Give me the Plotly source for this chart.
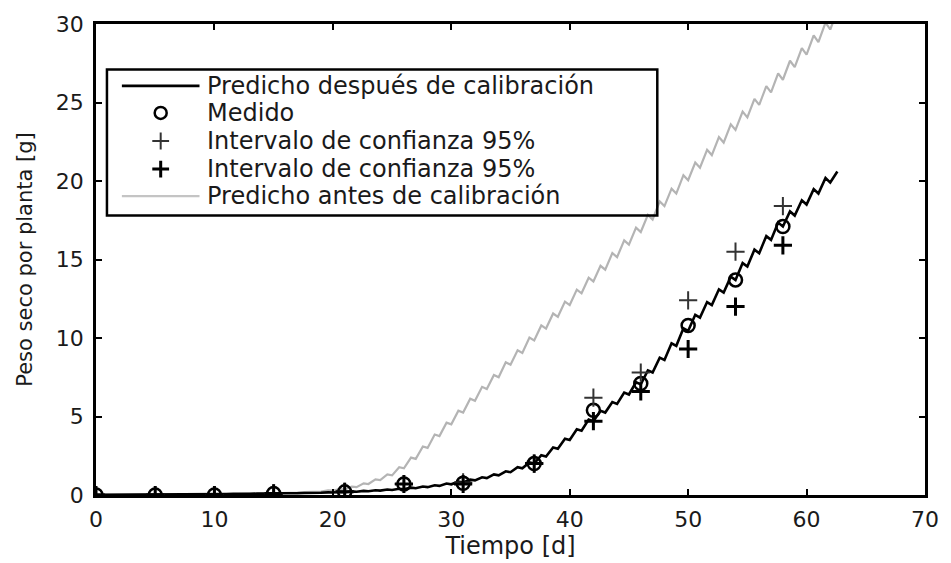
import plotly.graph_objects as go

# --- Data -------------------------------------------------------------------
# Simulated dry weight (g/plant). Each day: value at dawn and value at the end
# of the light period (the curve dips slightly during the night).
days = list(range(63))

after_dawn = [0.02, 0.02, 0.02, 0.02, 0.03, 0.03, 0.03, 0.04, 0.04, 0.05,
              0.05, 0.06, 0.06, 0.07, 0.08, 0.09, 0.10, 0.11, 0.12, 0.14,
              0.16, 0.18, 0.21, 0.24, 0.28, 0.32, 0.37, 0.43, 0.50, 0.58,
              0.68, 0.80, 0.93, 1.08, 1.25, 1.45, 1.70, 2.00, 2.45, 2.95,
              3.50, 4.10, 4.70, 5.25, 5.80, 6.40, 7.05, 7.80, 8.60, 9.50,
              10.45, 11.30, 12.10, 12.90, 13.70, 14.55, 15.40, 16.25, 17.10, 17.80,
              18.50, 19.20, 19.90]
after_dusk = [0.02, 0.02, 0.02, 0.03, 0.03, 0.03, 0.04, 0.04, 0.05, 0.05,
              0.06, 0.07, 0.08, 0.09, 0.10, 0.11, 0.12, 0.13, 0.15, 0.17,
              0.20, 0.23, 0.26, 0.30, 0.35, 0.40, 0.47, 0.54, 0.62, 0.73,
              0.85, 0.98, 1.13, 1.31, 1.51, 1.77, 2.07, 2.53, 3.03, 3.58,
              4.19, 4.80, 5.36, 5.92, 6.52, 7.18, 7.94, 8.75, 9.66, 10.62,
              11.48, 12.29, 13.10, 13.91, 14.77, 15.63, 16.49, 17.35, 18.06, 18.77,
              19.48, 20.19, 20.60]

before_dawn = [0.00, 0.01, 0.01, 0.01, 0.02, 0.02, 0.02, 0.03, 0.03, 0.04,
               0.04, 0.05, 0.06, 0.07, 0.08, 0.10, 0.12, 0.15, 0.18, 0.22,
               0.28, 0.36, 0.50, 0.70, 0.95, 1.25, 1.70, 2.30, 3.00, 3.75,
               4.50, 5.25, 6.00, 6.75, 7.50, 8.30, 9.05, 9.85, 10.60, 11.35,
               12.10, 12.85, 13.60, 14.35, 15.15, 15.95, 16.75, 17.55, 18.40, 19.20,
               20.05, 20.85, 21.65, 22.45, 23.25, 24.05, 24.85, 25.65, 26.45, 27.25,
               28.05, 28.85, 29.65]
before_dusk = [0.01, 0.01, 0.01, 0.02, 0.02, 0.02, 0.03, 0.03, 0.04, 0.04,
               0.05, 0.06, 0.07, 0.08, 0.10, 0.12, 0.15, 0.18, 0.22, 0.29,
               0.38, 0.53, 0.74, 1.00, 1.31, 1.77, 2.38, 3.09, 3.85, 4.61,
               5.37, 6.13, 6.89, 7.65, 8.46, 9.22, 10.03, 10.80, 11.56, 12.32,
               13.08, 13.84, 14.60, 15.41, 16.22, 17.03, 17.84, 18.70, 19.51, 20.37,
               21.18, 21.99, 22.80, 23.61, 24.42, 25.23, 26.04, 26.85, 27.66, 28.47,
               29.28, 30.09, 30.85]

# Measurements and 95% confidence bounds
meas_days = [0, 5, 10, 15, 21, 26, 31, 37, 42, 46, 50, 54, 58]
measured = [0.0, 0.0, 0.0, 0.1, 0.2, 0.7, 0.75, 2.0, 5.4, 7.1, 10.8, 13.7, 17.1]
ci_upper = [0.0, 0.0, 0.0, 0.1, 0.2, 0.7, 0.8, 2.0, 6.2, 7.8, 12.4, 15.5, 18.4]
ci_lower = [0.0, 0.0, 0.0, 0.1, 0.2, 0.7, 0.7, 2.0, 4.7, 6.6, 9.3, 12.0, 15.9]

x_ticks = [0, 10, 20, 30, 40, 50, 60, 70]
y_ticks = [0, 5, 10, 15, 20, 25, 30]

legend_labels = ["Predicho después de calibración", "Medido",
                 "Intervalo de confianza 95%", "Intervalo de confianza 95%",
                 "Predicho antes de calibración"]

LIGHT_FRAC = 0.6  # fraction of the day with growth


def daily_cycle(dawn, dusk):
    xs, ys = [], []
    for d, lo, hi in zip(days, dawn, dusk):
        xs += [d, d + LIGHT_FRAC]
        ys += [lo, hi]
    return xs, ys


FONT = "DejaVu Sans, Arial, sans-serif"
TEXT = "#1a1a1a"
GRAY = "#b4b4b4"

fig = go.Figure()

bx, by = daily_cycle(before_dawn, before_dusk)
fig.add_trace(go.Scatter(x=bx, y=by, mode="lines",
                         line=dict(color=GRAY, width=2.2), showlegend=False))

ax, ay = daily_cycle(after_dawn, after_dusk)
fig.add_trace(go.Scatter(x=ax, y=ay, mode="lines",
                         line=dict(color="black", width=2.6), showlegend=False))

fig.add_trace(go.Scatter(x=meas_days, y=measured, mode="markers",
                         marker=dict(symbol="circle-open", size=13, color="black",
                                     line=dict(width=2.5)),
                         showlegend=False))
fig.add_trace(go.Scatter(x=meas_days, y=ci_upper, mode="markers",
                         marker=dict(symbol="cross-thin-open", size=13, color="#333333",
                                     line=dict(width=2, color="#333333")),
                         showlegend=False))
fig.add_trace(go.Scatter(x=meas_days, y=ci_lower, mode="markers",
                         marker=dict(symbol="cross-thin-open", size=13, color="black",
                                     line=dict(width=3, color="black")),
                         showlegend=False))

# --- Legend, drawn on an overlay axis in pixel units ------------------------
L, R, T, B = 96, 929, 15, 502
leg_left, leg_right, leg_top, leg_bottom = 107, 660, 62, 213
row_y = [79, 107, 136, 165, 193]
sample_x0, sample_x1, sample_xc, text_x = 122, 200, 161, 206

fig.add_trace(go.Scatter(x=[sample_x0, sample_x1], y=[row_y[0]] * 2, mode="lines",
                         line=dict(color="black", width=2.6),
                         xaxis="x2", yaxis="y2", showlegend=False))
fig.add_trace(go.Scatter(x=[sample_xc], y=[row_y[1]], mode="markers",
                         marker=dict(symbol="circle-open", size=12, color="black",
                                     line=dict(width=2.5)),
                         xaxis="x2", yaxis="y2", showlegend=False))
fig.add_trace(go.Scatter(x=[sample_xc], y=[row_y[2]], mode="markers",
                         marker=dict(symbol="cross-thin-open", size=12, color="#333333",
                                     line=dict(width=2, color="#333333")),
                         xaxis="x2", yaxis="y2", showlegend=False))
fig.add_trace(go.Scatter(x=[sample_xc], y=[row_y[3]], mode="markers",
                         marker=dict(symbol="cross-thin-open", size=12, color="black",
                                     line=dict(width=3, color="black")),
                         xaxis="x2", yaxis="y2", showlegend=False))
fig.add_trace(go.Scatter(x=[sample_x0, sample_x1], y=[row_y[4]] * 2, mode="lines",
                         line=dict(color="#c4c4c4", width=2.2),
                         xaxis="x2", yaxis="y2", showlegend=False))

fig.add_shape(type="rect", xref="x2", yref="y2",
              x0=leg_left, x1=leg_right, y0=leg_top, y1=leg_bottom,
              line=dict(color="black", width=2.5), layer="above")

for label, yy in zip(legend_labels, row_y):
    fig.add_annotation(x=text_x, y=yy, xref="x2", yref="y2", text=label,
                       showarrow=False, xanchor="left", yanchor="middle",
                       font=dict(family=FONT, size=24, color=TEXT))

axis_common = dict(showline=True, linecolor="black", linewidth=2.5, mirror="ticks",
                   ticks="inside", ticklen=6, tickwidth=2, tickcolor="black",
                   showgrid=False, zeroline=False,
                   tickfont=dict(family=FONT, size=22, color=TEXT))

fig.update_layout(
    width=951, height=563,
    margin=dict(l=L, r=951 - R, t=T, b=563 - B),
    paper_bgcolor="white", plot_bgcolor="white",
    showlegend=False,
    xaxis=dict(range=[0, 70], tickvals=x_ticks, ticklabelstandoff=3,
               title=dict(text="Tiempo [d]", standoff=2,
                          font=dict(family=FONT, size=24, color=TEXT)),
               **axis_common),
    yaxis=dict(range=[0, 30], tickvals=y_ticks, ticklabelstandoff=5,
               title=dict(text="Peso seco por planta [g]", standoff=18,
                          font=dict(family=FONT, size=21, color=TEXT)),
               **axis_common),
    xaxis2=dict(range=[L, R], overlaying="x", visible=False, fixedrange=True),
    yaxis2=dict(range=[B, T], overlaying="y", visible=False, fixedrange=True),
)

fig.write_html("out.html")
